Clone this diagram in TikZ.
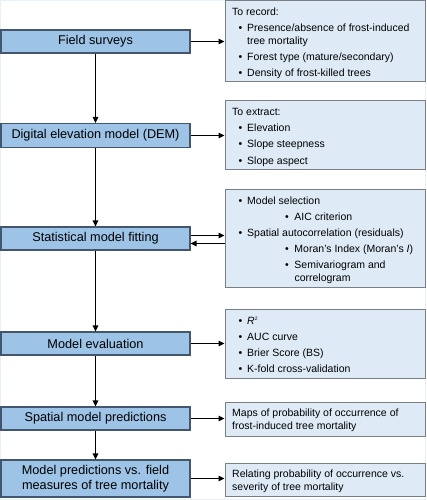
\documentclass[tikz,border=0pt]{standalone}
\usepackage{fontspec}
\setmainfont{Liberation Sans}
\usetikzlibrary{arrows.meta}
\definecolor{leftfill}{HTML}{9DC3E6}
\definecolor{leftdraw}{HTML}{44566C}
\definecolor{rightfill}{HTML}{DEEBF7}
\definecolor{rightdraw}{HTML}{7A7F86}
\definecolor{edgetint}{HTML}{E8F0F8}
\newcommand{\bitem}[1]{\par\hangindent=15pt\hangafter=1\hspace*{6.5pt}\makebox[8.5pt][l]{\textbullet}#1}
\newcommand{\sitem}[1]{\par\hangindent=62.3pt\hangafter=1\hspace*{52.8pt}\makebox[9.5pt][l]{\textbullet}#1}
\newcommand{\rtext}[1]{\parbox[t]{190pt}{\raggedright\fontsize{10.5}{13}\selectfont\setlength{\parindent}{0pt}\setlength{\parskip}{3pt}#1}}
\tikzset{
  stepbox/.style={draw=leftdraw, fill=leftfill, line width=1.1pt, minimum width=189pt, inner sep=0pt, align=center, font=\fontsize{12.7}{15}\selectfont},
  infobox/.style={draw=rightdraw, fill=rightfill, line width=1pt, inner sep=0pt, minimum width=200pt},
  infotext/.style={anchor=base west, inner sep=0pt},
  arr/.style={line width=1.2pt, -{Triangle[length=6pt,width=5.5pt]}}
}
\begin{document}
\begin{tikzpicture}[x=1pt,y=-1pt]
\useasboundingbox (0,0) rectangle (426,500);
\fill[white] (0,0) rectangle (426,500);
\draw[edgetint, line width=1.2pt] (0.6,0.6) rectangle (425.4,499.4);
% left steps
\node[stepbox, minimum height=23pt] (fs) at (95.5,41.5) {Field surveys};
\node[stepbox, minimum height=24pt] (dem) at (95.5,135.5) {Digital elevation model (DEM)};
\node[stepbox, minimum height=23pt] (stat) at (95.5,238.5) {Statistical model fitting};
\node[stepbox, minimum height=23pt] (eval) at (95.5,343.5) {Model evaluation};
\node[stepbox, minimum height=23pt] (smp) at (95.5,418.5) {Spatial model predictions};
\node[stepbox, minimum height=37pt] (mpv) at (95.5,478.5) {Model predictions vs. field\\measures of tree mortality};
% right boxes
\node[infobox, minimum height=81pt] (r1) at (325,41.5) {};
\node[infobox, minimum height=68pt] (r2) at (325,135) {};
\node[infobox, minimum height=98pt] (r3) at (325,238) {};
\node[infobox, minimum height=69pt] (r4) at (325,343.5) {};
\node[infobox, minimum height=34pt] (r5) at (325,419) {};
\node[infobox, minimum height=33pt] (r6) at (325,479.5) {};
% texts
\node[infotext] (t1) at (232,16) {\rtext{To record:\bitem{Presence/absence of frost-induced\newline tree mortality}\bitem{Forest type (mature/secondary)}\bitem{Density of frost-killed trees}}};
\node[infotext] (t2) at (232,116) {\rtext{To extract:\bitem{Elevation}\bitem{Slope steepness}\bitem{Slope aspect}}};
\node[infotext] (t3) at (232,204) {\rtext{\bitem{Model selection}\sitem{AIC criterion}\bitem{Spatial autocorrelation (residuals)}\sitem{Moran’s Index (Moran’s \textit{I})}\sitem{Semivariogram and\newline correlogram}}};
\node[infotext] (t4) at (232,324) {\rtext{\bitem{\textit{R}\raisebox{4pt}{\fontsize{5}{5}\selectfont 2}}\bitem{AUC curve}\bitem{Brier Score (BS)}\bitem{K-fold cross-validation}}};
\node[infotext] (t5) at (232,416) {\rtext{Maps of probability of occurrence of\newline frost-induced tree mortality}};
\node[infotext] (t6) at (232,477) {\rtext{Relating probability of occurrence vs.\newline severity of tree mortality}};
% vertical arrows
\draw[arr] (fs) -- (dem);
\draw[arr] (dem) -- (stat);
\draw[arr] (stat) -- (eval);
\draw[arr] (eval) -- (smp);
\draw[arr] (smp) -- (mpv);
% horizontal arrows
\draw[arr] (fs.east) -- (fs.east -| r1.west);
\draw[arr] (dem.east) -- (dem.east -| r2.west);
\draw[arr] ([yshift=3pt]stat.east) -- ([yshift=3pt]stat.east -| r3.west);
\draw[arr] ([yshift=-5pt]stat.east -| r3.west) -- ([yshift=-5pt]stat.east);
\draw[arr] (eval.east) -- (eval.east -| r4.west);
\draw[arr] (smp.east) -- (smp.east -| r5.west);
\draw[arr] (mpv.east) -- (mpv.east -| r6.west);
\end{tikzpicture}
\end{document}
